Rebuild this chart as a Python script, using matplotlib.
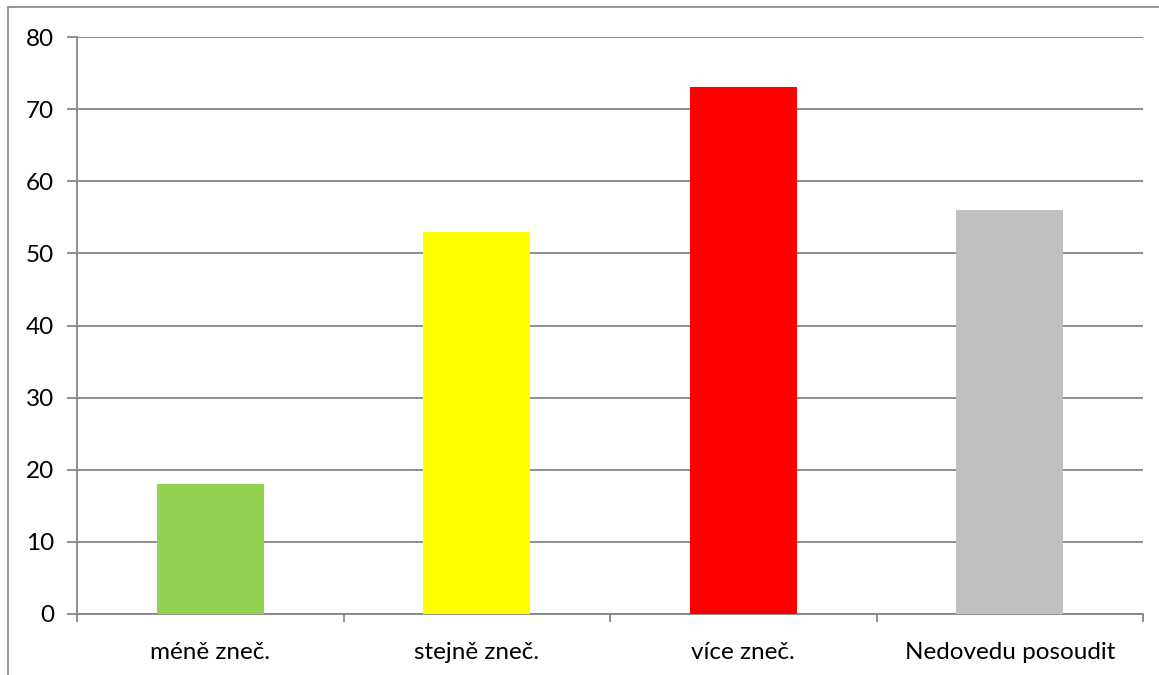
import matplotlib.pyplot as plt
from matplotlib.patches import Rectangle

categories = ['méně zneč.', 'stejně zneč.', 'více zneč.', 'Nedovedu posoudit']
values = [18, 53, 73, 56]
colors = ['#92D050', '#FFFF00', '#FF0000', '#BFBFBF']
yticks = [0, 10, 20, 30, 40, 50, 60, 70, 80]

plt.rcParams['font.family'] = ['Lato', 'DejaVu Sans']

W, H = 1159, 675
fig = plt.figure(figsize=(W/100, H/100), dpi=100)
ax = fig.add_axes([77/W, 1-614/H, (1143-77)/W, (614-37)/H])

# outer chart border (runs off the right and bottom edge)
fig.patches.append(Rectangle((8/W, -0.1), 1.2, 1-7/H+0.1, transform=fig.transFigure,
                             fill=False, edgecolor='#868686', linewidth=1.2))

x = range(len(categories))
ax.bar(x, values, width=0.4, color=colors, zorder=3)

ax.set_xlim(-0.5, len(categories)-0.5)
ax.set_ylim(0, 80)
ax.set_yticks(yticks)
ax.set_yticklabels([str(v) for v in yticks], fontsize=17.5)
ax.yaxis.grid(True, color='#868686', linewidth=1.3, zorder=0)
ax.set_axisbelow(True)

ax.set_xticks([i-0.5 for i in range(len(categories)+1)])
ax.set_xticklabels([])
ax.set_xticks(list(x), minor=True)
ax.set_xticklabels(categories, minor=True, fontsize=17.5)
ax.tick_params(axis='x', which='minor', length=0, pad=20)
ax.tick_params(axis='x', which='major', length=6, color='#868686', width=1.3)
ax.tick_params(axis='y', length=7, color='#868686', width=1.3, pad=9.5)

for s in ['top', 'right']:
    ax.spines[s].set_visible(False)
for s in ['left', 'bottom']:
    ax.spines[s].set_color('#868686')
    ax.spines[s].set_linewidth(1.3)

fig.savefig('out.png', dpi=100, facecolor='white')
